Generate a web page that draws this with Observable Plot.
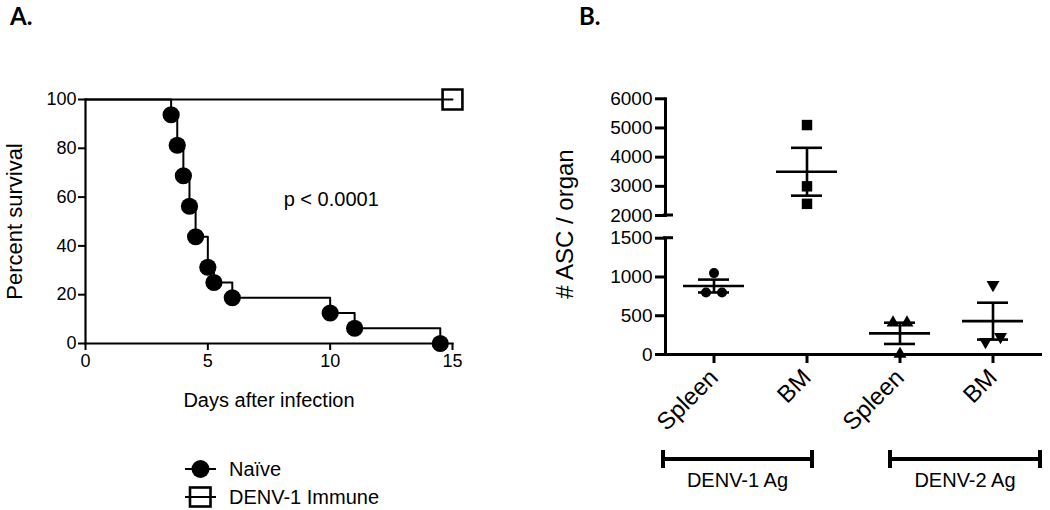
<!DOCTYPE html>
<html><head><meta charset="utf-8">
<script src="https://cdn.jsdelivr.net/npm/d3@7"></script>
<script src="https://cdn.jsdelivr.net/npm/@observablehq/plot@0.6"></script>
<style>
body{margin:0;background:#fff;}
#fig{position:relative;width:1050px;height:510px;overflow:hidden;background:#fff;color:#000;font-family:"Liberation Sans",Arial,sans-serif;}
#fig svg{position:absolute;}
</style></head><body>
<div id="fig"></div>
<script>
// ---------- Panel A: survival data ----------
const naiveDays = [0, 3.5, 3.75, 4, 4.25, 4.5, 5, 5.25, 6, 10, 11, 14.5];
const naiveSurvival = [100, 93.75, 81.25, 68.75, 56.25, 43.75, 31.25, 25, 18.75, 12.5, 6.25, 0];
const immuneDays = [0, 15];
const immuneSurvival = [100, 100];
const survivalYTicks = [0, 20, 40, 60, 80, 100];
const survivalXTicks = [0, 5, 10, 15];
const pAnnotation = [{label: "p < 0.0001", day: 8.1, pct: 59}];
const legendLabels = ["Naïve", "DENV-1 Immune"];

// ---------- Panel B: ASC data ----------
const groups = ["DENV-1 Spleen", "DENV-1 BM", "DENV-2 Spleen", "DENV-2 BM"];
const organLabels = ["Spleen", "BM", "Spleen", "BM"];
const antigenLabels = ["DENV-1 Ag", "DENV-2 Ag"];
const ascValues = [[1050, 800, 800], [5100, 3000, 2400], [410, 410, 5], [900, 165, 230]];
const ascMeans = [883, 3500, 273, 430];
const ascSems = [83, 820, 137, 238];
const upperTicks = [2000, 3000, 4000, 5000, 6000];
const lowerTicks = [0, 500, 1000, 1500];

// ---------- rendering ----------
const fig = document.getElementById("fig");
const font = '"Liberation Sans", Arial, sans-serif';
const baseStyle = {fontFamily: font, fontSize: "18px", color: "#000", background: "transparent", overflow: "visible"};
function place(el, left, top) { el.style.left = left + "px"; el.style.top = top + "px"; fig.appendChild(el); return el; }
const plain = d => String(d);

const naive = naiveDays.map((d, i) => ({day: d, pct: naiveSurvival[i]}));
const immune = immuneDays.map((d, i) => ({day: d, pct: immuneSurvival[i]}));

const plotA = Plot.plot({
  width: 480, height: 430,
  marginLeft: 85, marginRight: 28, marginTop: 99, marginBottom: 87,
  style: baseStyle,
  x: {domain: [0, 15]},
  y: {domain: [0, 100]},
  marks: [
    Plot.axisY({ticks: survivalYTicks, tickFormat: plain, tickSize: 7, tickPadding: 2, strokeWidth: 2, label: null, fontSize: 18}),
    Plot.axisX({ticks: survivalXTicks, tickFormat: plain, tickSize: 7, tickPadding: 4, strokeWidth: 2, label: null, fontSize: 18}),
    Plot.frame({anchor: "left", strokeWidth: 2.2}),
    Plot.frame({anchor: "bottom", strokeWidth: 2.2}),
    Plot.line(naive, {x: "day", y: "pct", curve: "step-after", strokeWidth: 2}),
    Plot.dot(naive.slice(1), {x: "day", y: "pct", r: 8.6, fill: "black", stroke: "none"}),
    Plot.dot(immune.slice(-1), {x: "day", y: "pct", symbol: "square", r: 11.2, fill: "white", stroke: "black", strokeWidth: 2.6}),
    Plot.line(immune, {x: "day", y: "pct", strokeWidth: 2}),
    Plot.text(pAnnotation, {x: "day", y: "pct", text: "label", textAnchor: "start", lineAnchor: "middle", fontSize: 20}),
    Plot.text(["Percent survival"], {text: d => d, frameAnchor: "left", dx: -71, rotate: -90, textAnchor: "middle", lineAnchor: "middle", fontSize: 22}),
    Plot.text(["Days after infection"], {text: d => d, frameAnchor: "bottom", dy: 57, textAnchor: "middle", lineAnchor: "middle", fontSize: 20})
  ]
});
place(plotA, 0, 0);

// Panel B
const rows = groups.flatMap((g, gi) => ascValues[gi].map((v, i) => ({group: g, gi, i, value: v})));
const stats = groups.map((g, gi) => ({group: g, mean: ascMeans[gi], lo: ascMeans[gi] - ascSems[gi], hi: ascMeans[gi] + ascSems[gi]}));
const triangleDown = {
  draw(context, size) {
    const y = Math.sqrt(size / (Math.sqrt(3) * 3));
    context.moveTo(0, y * 2);
    context.lineTo(-Math.sqrt(3) * y, -y);
    context.lineTo(Math.sqrt(3) * y, -y);
    context.closePath();
  }
};
const symbols = ["circle", "square", "triangle", triangleDown];
const symbolR = [5, 5.9, 4.8, 4.8];
const jitter = [[0, -8, 8], [0, 0, 0], [-7, 7, 0], [0, -7.5, 7.5]];

function dataMarks(inDomain) {
  const marks = [];
  rows.filter(r => inDomain(r.value)).forEach(r => {
    marks.push(Plot.dot([r], {x: "group", y: "value", symbol: symbols[r.gi], r: symbolR[r.gi], fill: "black", stroke: "none", dx: jitter[r.gi][r.i]}));
  });
  const st = stats.filter(s => inDomain(s.mean));
  marks.push(Plot.ruleX(st, {x: "group", y1: "lo", y2: "hi", strokeWidth: 2.6}));
  marks.push(Plot.tickY(st, {x: "group", y: "mean", strokeWidth: 2.6, insetLeft: 16, insetRight: 16}));
  marks.push(Plot.tickY(st, {x: "group", y: "hi", strokeWidth: 2.6, insetLeft: 31, insetRight: 31}));
  marks.push(Plot.tickY(st, {x: "group", y: "lo", strokeWidth: 2.6, insetLeft: 31, insetRight: 31}));
  return marks;
}

const plotBUpper = Plot.plot({
  width: 530, height: 230,
  marginLeft: 145, marginRight: 10, marginTop: 98.3, marginBottom: 15,
  style: baseStyle,
  x: {type: "band", domain: groups, padding: 0, axis: null},
  y: {domain: [2000, 6000]},
  marks: [
    Plot.axisY({ticks: upperTicks, tickFormat: plain, tickSize: 10, tickPadding: 3, strokeWidth: 3, label: null, fontSize: 19}),
    Plot.frame({anchor: "left", strokeWidth: 3}),
    ...dataMarks(v => v >= 2000)
  ]
});
place(plotBUpper, 520, 0);

const plotBLower = Plot.plot({
  width: 530, height: 180,
  marginLeft: 145, marginRight: 10, marginTop: 17.7, marginBottom: 46,
  style: baseStyle,
  x: {type: "band", domain: groups, padding: 0},
  y: {domain: [0, 1500]},
  marks: [
    Plot.axisY({ticks: lowerTicks, tickFormat: plain, tickSize: 10, tickPadding: 3, strokeWidth: 3, label: null, fontSize: 19}),
    Plot.axisX({tickSize: 9, tickPadding: 10, tickRotate: -45, strokeWidth: 3, label: null, fontSize: 24,
      tickFormat: d => organLabels[groups.indexOf(d)]}),
    Plot.frame({anchor: "left", strokeWidth: 3}),
    Plot.frame({anchor: "bottom", strokeWidth: 3}),
    ...dataMarks(v => v <= 1500)
  ]
});
place(plotBLower, 520, 220);

// Decorations: panel letters, y title of B, axis-break caps, group brackets, legend
const deco = d3.create("svg").attr("width", 1050).attr("height", 510)
  .style("left", "0px").style("top", "0px").style("pointer-events", "none").style("font-family", font);
deco.append("text").attr("x", 10).attr("y", 25).attr("font-family", "Lato, 'Open Sans', sans-serif").attr("font-weight", 700).attr("font-size", 24).text("A.");
deco.append("text").attr("x", 579).attr("y", 25).attr("font-family", "Lato, 'Open Sans', sans-serif").attr("font-weight", 700).attr("font-size", 24).text("B.");
deco.append("text").attr("transform", "translate(564,224) rotate(-90)").attr("text-anchor", "middle").attr("dominant-baseline", "central").attr("font-size", 24).text("# ASC / organ");
// break caps
[215, 237.7].forEach(y => deco.append("line").attr("x1", 663).attr("x2", 673).attr("y1", y).attr("y2", y).attr("stroke", "black").attr("stroke-width", 3));
// brackets
const brackets = [[663, 812], [890, 1040]];
brackets.forEach(([a, b], k) => {
  deco.append("line").attr("x1", a).attr("x2", b).attr("y1", 459).attr("y2", 459).attr("stroke", "black").attr("stroke-width", 4);
  [a, b].forEach(x => deco.append("line").attr("x1", x).attr("x2", x).attr("y1", 450).attr("y2", 468).attr("stroke", "black").attr("stroke-width", 4));
  deco.append("text").attr("x", (a + b) / 2).attr("y", 487).attr("text-anchor", "middle").attr("font-size", 20).text(antigenLabels[k]);
});
// legend
deco.append("line").attr("x1", 185).attr("x2", 216).attr("y1", 469).attr("y2", 469).attr("stroke", "black").attr("stroke-width", 2);
deco.append("circle").attr("cx", 200.5).attr("cy", 469).attr("r", 9).attr("fill", "black");
deco.append("text").attr("x", 229).attr("y", 476).attr("font-size", 20).text(legendLabels[0]);
deco.append("rect").attr("x", 190).attr("y", 487.5).attr("width", 20.5).attr("height", 19).attr("fill", "white").attr("stroke", "black").attr("stroke-width", 2.6);
deco.append("line").attr("x1", 185).attr("x2", 216).attr("y1", 497).attr("y2", 497).attr("stroke", "black").attr("stroke-width", 2);
deco.append("text").attr("x", 229).attr("y", 504).attr("font-size", 20).text(legendLabels[1]);
fig.appendChild(deco.node());
</script>
</body></html>
